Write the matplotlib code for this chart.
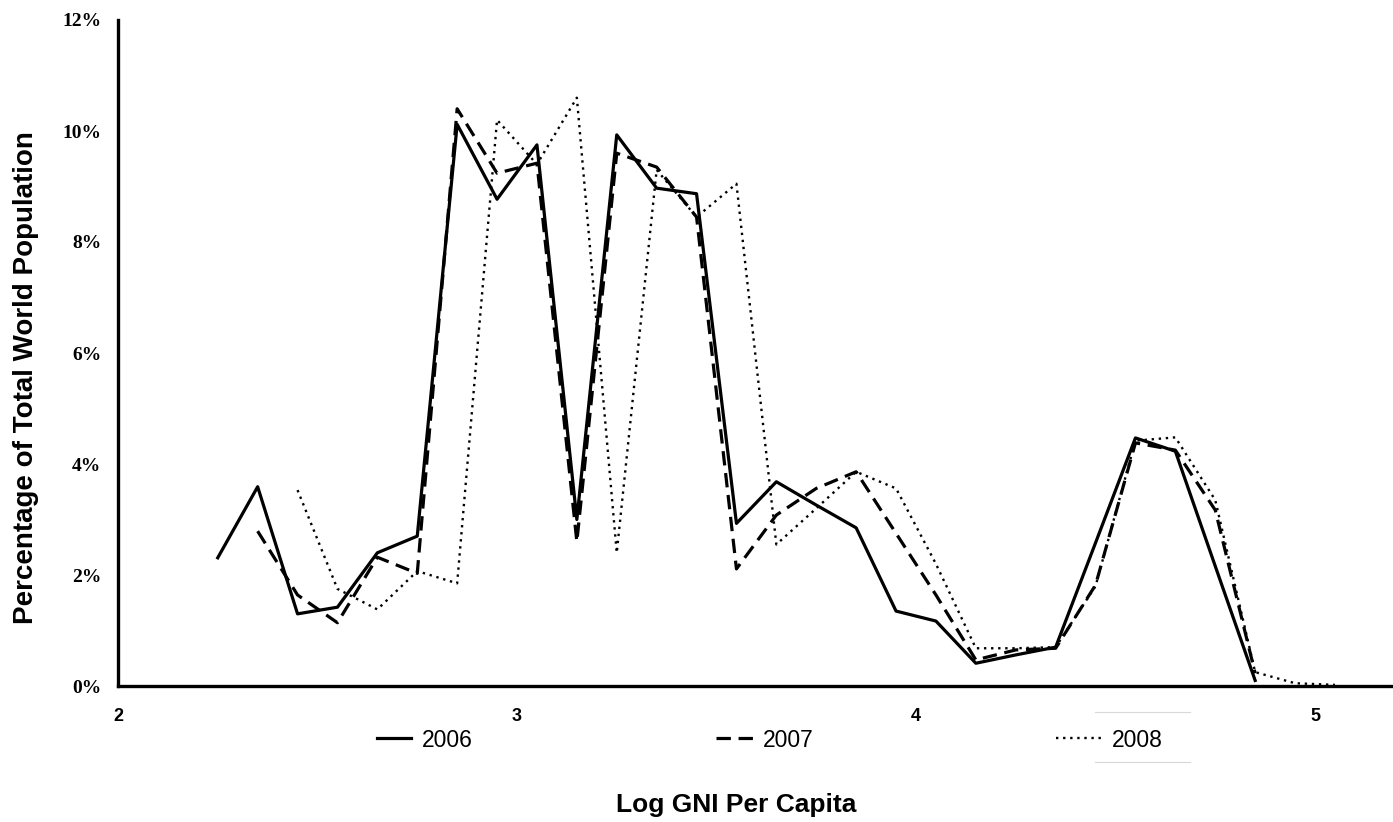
import matplotlib.pyplot as plt
from matplotlib.lines import Line2D
from matplotlib.ticker import FuncFormatter

# Bin midpoints of log GNI per capita (0.1 wide bins)
x_2006 = [2.25, 2.35, 2.45, 2.55, 2.65, 2.75, 2.85, 2.95, 3.05, 3.15, 3.25, 3.35,
          3.45, 3.55, 3.65, 3.75, 3.85, 3.95, 4.05, 4.15, 4.25, 4.35, 4.45, 4.55,
          4.65, 4.75, 4.85]
y_2006 = [2.31, 3.59, 1.30, 1.42, 2.40, 2.70, 10.12, 8.77, 9.75, 3.00, 9.93, 8.97,
          8.87, 2.93, 3.68, 3.26, 2.85, 1.35, 1.17, 0.41, 0.56, 0.70, 2.58, 4.47,
          4.23, 2.16, 0.10]

x_2007 = [2.35, 2.45, 2.55, 2.65, 2.75, 2.85, 2.95, 3.05, 3.15, 3.25, 3.35, 3.45,
          3.55, 3.65, 3.75, 3.85, 3.95, 4.05, 4.15, 4.25, 4.35, 4.45, 4.55, 4.65,
          4.75, 4.85]
y_2007 = [2.79, 1.64, 1.14, 2.32, 2.03, 10.40, 9.24, 9.42, 2.60, 9.60, 9.35, 8.45,
          2.11, 3.08, 3.56, 3.86, 2.75, 1.64, 0.47, 0.65, 0.68, 1.82, 4.38, 4.25,
          3.17, 0.23]

x_2008 = [2.45, 2.55, 2.65, 2.75, 2.85, 2.95, 3.05, 3.15, 3.25, 3.35, 3.45, 3.55,
          3.65, 3.75, 3.85, 3.95, 4.05, 4.15, 4.25, 4.35, 4.45, 4.55, 4.65, 4.75,
          4.85, 4.95, 5.05]
y_2008 = [3.53, 1.75, 1.38, 2.07, 1.85, 10.20, 9.40, 10.60, 2.40, 9.30, 8.45, 9.05,
          2.55, 3.20, 3.86, 3.56, 2.20, 0.68, 0.68, 0.70, 1.80, 4.42, 4.48, 3.35,
          0.25, 0.05, 0.02]

x_ticks = [2, 3, 4, 5]
y_ticks = [0, 2, 4, 6, 8, 10, 12]

W, H = 1393, 822
fig = plt.figure(figsize=(W / 100, H / 100), dpi=100)
ax = fig.add_axes([118 / W, 1 - 686 / H, 1 - 118 / W, (686 - 20) / H])

l06, = ax.plot(x_2006, y_2006, color='black', lw=2.3, linestyle='-', label='2006')
l07, = ax.plot(x_2007, y_2007, color='black', lw=2.3, linestyle=(0, (4.5, 2.4)), label='2007')
l08, = ax.plot(x_2008, y_2008, color='black', lw=1.7, linestyle=(0, (1, 2.0)), label='2008')

ax.set_xlim(2, 2 + (W - 118) / 399)
ax.set_ylim(0, 12)
ax.set_xticks(x_ticks)
ax.set_yticks(y_ticks)
ax.yaxis.set_major_formatter(FuncFormatter(lambda v, p: f'{v:.0f}%'))
ax.tick_params(axis='y', length=0, pad=12)
ax.tick_params(axis='x', length=0, pad=16)
for lab in ax.get_yticklabels():
    lab.set_fontfamily('Liberation Serif')
    lab.set_fontweight('bold')
    lab.set_fontsize(14)
for lab in ax.get_xticklabels():
    lab.set_fontfamily('Liberation Sans')
    lab.set_fontweight('bold')
    lab.set_fontsize(13)

for side in ['top', 'right']:
    ax.spines[side].set_visible(False)
for side in ['left', 'bottom']:
    ax.spines[side].set_linewidth(2.4)
    ax.spines[side].set_color('black')

sans = ['Liberation Sans', 'DejaVu Sans']
fig.text(26 / W, 1 - 378 / H, 'Percentage of Total World Population',
         rotation=90, ha='center', va='center', fontsize=20, fontweight='bold',
         family=sans)
fig.text(736 / W, 1 - 805 / H, 'Log GNI Per Capita', ha='center', va='center',
         fontsize=19, fontweight='bold', family=sans)

# three separate legend entries, spread under the x axis like the source
entries = [(l06, '2006', 377, 1.5), (l07, '2007', 716, 1.6), (l08, '2008', 1056, 2.0)]
for handle, text, px, hl in entries:
    leg = fig.legend([handle], [text], loc='center left',
                     bbox_to_anchor=(px / W, 1 - 740 / H), frameon=False,
                     prop={'family': sans, 'size': 16.5}, handlelength=hl,
                     handletextpad=0.45, borderpad=0, borderaxespad=0)

# faint rules around the last legend entry, as in the source image
fig.add_artist(Line2D([1095 / W, 1190 / W], [1 - 712 / H] * 2, color='#d8d8d8', lw=0.8))
fig.add_artist(Line2D([1095 / W, 1190 / W], [1 - 762 / H] * 2, color='#d8d8d8', lw=0.8))

fig.savefig('out.png', dpi=100)
